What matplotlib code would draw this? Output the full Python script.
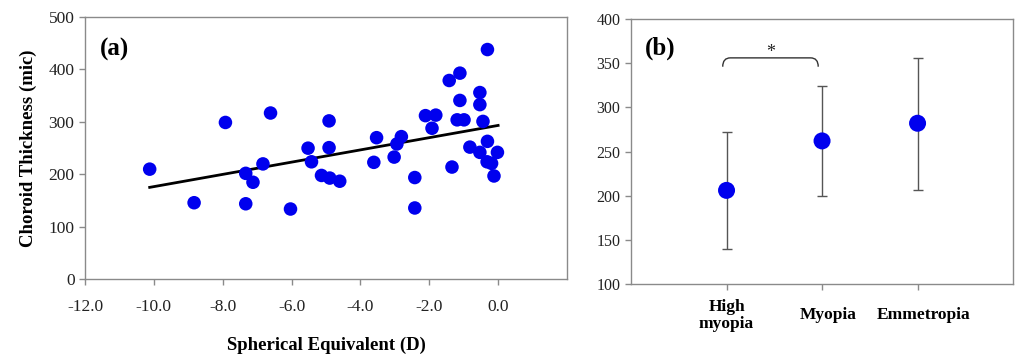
import numpy as np
import matplotlib
matplotlib.use('Agg')
import matplotlib.pyplot as plt
from matplotlib.path import Path
from matplotlib.patches import PathPatch

plt.rcParams['font.family'] = ['Liberation Serif', 'DejaVu Serif']

# (a) spherical equivalent vs choroid thickness
se = [-10.12, -8.83, -7.92, -7.33, -7.33, -7.12, -6.83, -6.61, -6.03,
      -5.52, -5.42, -5.13, -4.91, -4.91, -4.89, -4.60, -3.61, -3.53, -3.02,
      -2.94, -2.81, -2.42, -2.42,
      -2.11, -1.92, -1.81, -1.42, -1.34, -1.19, -1.11, -1.11, -0.99, -0.82,
      -0.53, -0.53, -0.53, -0.44, -0.31, -0.31, -0.32, -0.19, -0.12, -0.02]
thick = [210, 146, 299, 202, 144, 185, 220, 317, 134,
         250, 224, 198, 302, 251, 193, 187, 223, 270, 233,
         258, 272, 194, 136,
         312, 288, 313, 379, 214, 304, 393, 341, 304, 252,
         356, 333, 242, 301, 438, 263, 224, 221, 197, 242]

# (b) group means with error bars
groups = ['High\nmyopia', 'Myopia', 'Emmetropia']
means = [206, 262, 282]
lower = [140, 200, 206]
upper = [272, 324, 356]

spine_col = '#8a8a8a'
blue = '#0000ee'

fig = plt.figure(figsize=(10.15, 3.56), dpi=100)
ax1 = fig.add_axes([0.0837, 0.2154, 0.4749, 0.7368])
ax2 = fig.add_axes([0.6217, 0.2022, 0.3764, 0.7444])

for ax in (ax1, ax2):
    for s in ax.spines.values():
        s.set_color(spine_col)
        s.set_linewidth(1.0)
    ax.tick_params(direction='out', color=spine_col, length=4, width=1,
                   labelcolor='#222222')

# ---- panel (a)
ax1.scatter(se, thick, s=95, color=blue, edgecolors='none', zorder=3)
k, b = np.polyfit(se, thick, 1)
xs = np.array([min(se), 0.0])
ax1.plot(xs, k * xs + b, color='black', lw=2, zorder=2)
ax1.set_xlim(-12, 2)
ax1.set_ylim(0, 500)
ax1.set_xticks(np.arange(-12, 1, 2))
ax1.set_xticklabels([f'{v:.1f}' for v in np.arange(-12, 1, 2)])
ax1.set_yticks(range(0, 501, 100))
ax1.tick_params(labelsize=12.5)
ax1.tick_params(axis='x', pad=10)
ax1.set_xlabel('Spherical Equivalent (D)', fontsize=13.5, fontweight='bold')
ax1.set_ylabel('Choroid Thickness (mic)', fontsize=13.5, fontweight='bold')
ax1.xaxis.set_label_coords(0.5, -0.22)
ax1.yaxis.set_label_coords(-0.10, 0.5)
ax1.text(0.03, 0.875, '(a)', transform=ax1.transAxes, fontsize=18,
         fontweight='bold', va='center', ha='left')

# ---- panel (b)
xpos = np.arange(1, len(groups) + 1)
m = np.array(means)
ax2.errorbar(xpos, m, yerr=[m - np.array(lower), np.array(upper) - m],
             fmt='none', ecolor='#555555', elinewidth=1, capsize=3.5,
             capthick=1, zorder=2)
ax2.scatter(xpos, m, s=150, color=blue, edgecolors='none', zorder=3)
ax2.set_xlim(0, 4)
ax2.set_ylim(100, 400)
ax2.set_yticks(range(100, 401, 50))
ax2.set_xticks(xpos)
ax2.set_xticklabels([])
ax2.tick_params(labelsize=11.5)
for x, g in zip(xpos, groups):
    ax2.text(x + (0.06 if x > 1 else 0.0), -0.118, g,
             transform=ax2.get_xaxis_transform(), ha='center', va='center',
             fontsize=12.5, fontweight='bold', linespacing=1.1)
ax2.text(0.037, 0.89, '(b)', transform=ax2.transAxes, fontsize=18,
         fontweight='bold', va='center', ha='left')

# significance bracket
x0, x1, yb, yt, r = 0.96, 1.96, 346, 356, 0.08
verts = [(x0, yb), (x0, yt), (x0 + r, yt), (x1 - r, yt), (x1, yt), (x1, yb)]
codes = [Path.MOVETO, Path.CURVE3, Path.CURVE3, Path.LINETO, Path.CURVE3, Path.CURVE3]
ax2.add_patch(PathPatch(Path(verts, codes), fill=False, color='#333333', lw=1))
ax2.text((x0 + x1) / 2, 362, '*', ha='center', va='center', fontsize=13,
         color='#222222')

fig.savefig('out.png', dpi=100)
